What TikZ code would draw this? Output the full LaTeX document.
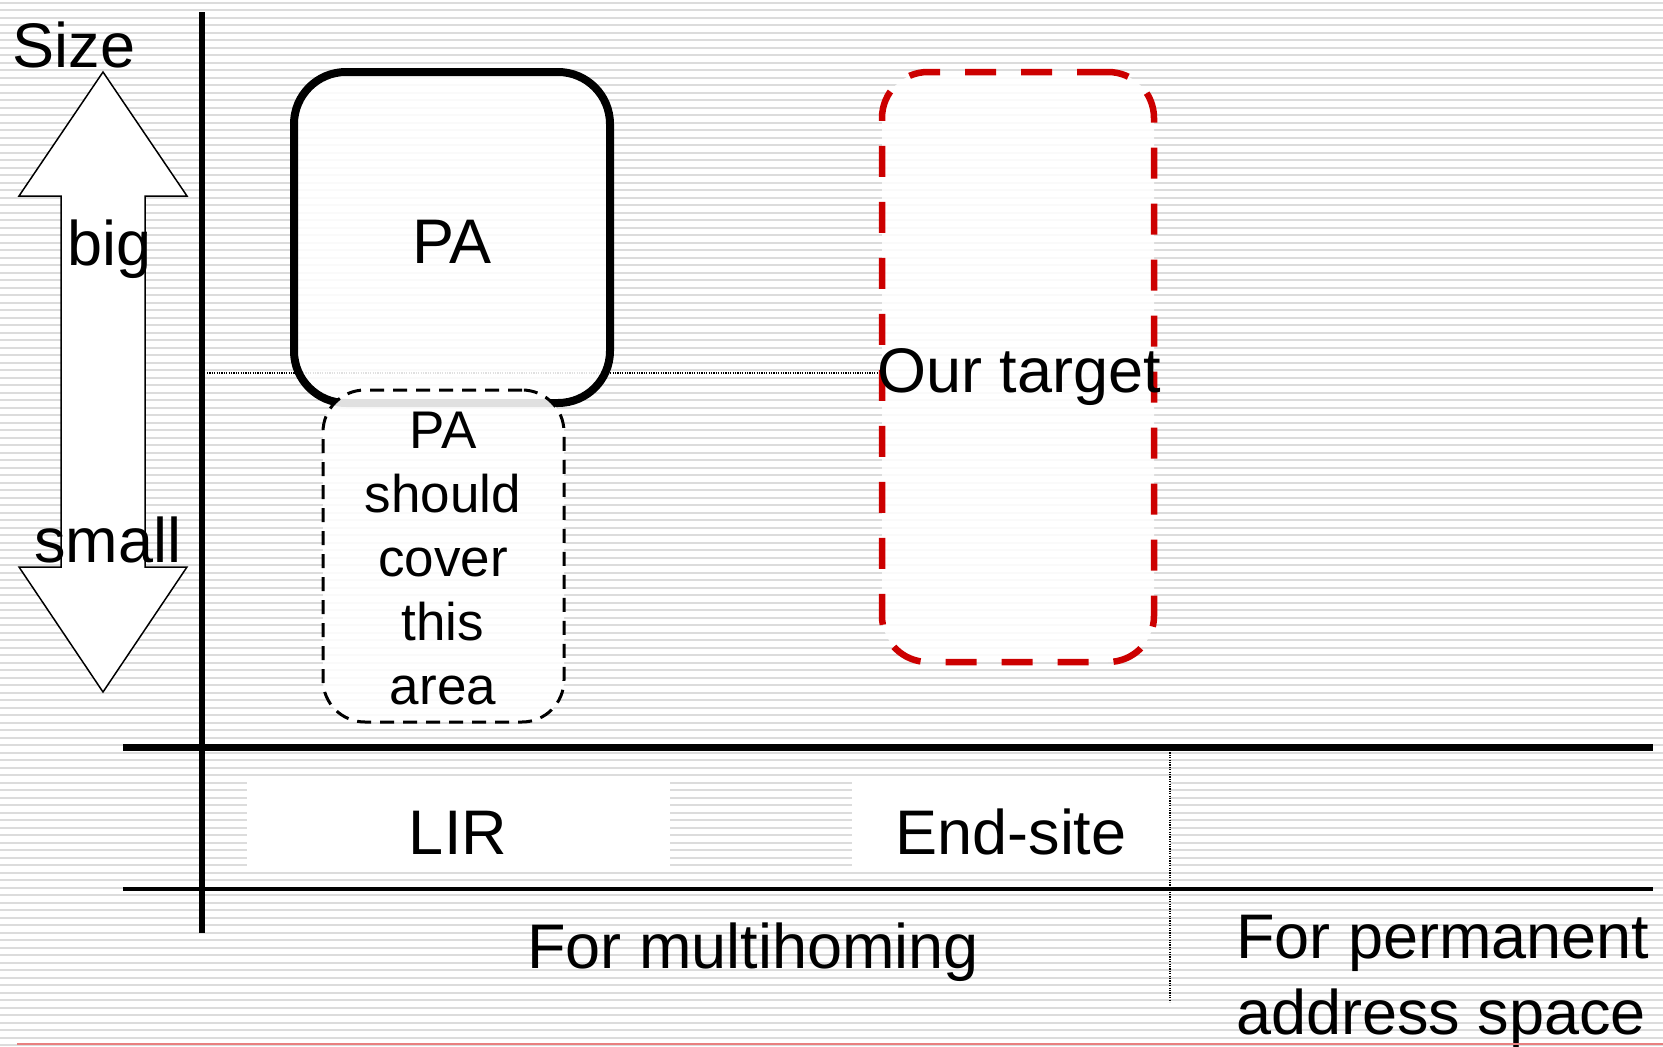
\documentclass[tikz,border=0pt]{standalone}
\usepackage{fontspec}
\setmainfont{Liberation Sans}
\definecolor{stripegray}{HTML}{DCDCDC}
\definecolor{targetred}{HTML}{CC0000}
\definecolor{redrule}{HTML}{E88080}
\begin{document}
\begin{tikzpicture}[x=1pt,y=-1pt,
  big/.style={font=\fontsize{63}{64}\selectfont, inner sep=0pt},
  mid/.style={font=\fontsize{53}{64}\selectfont, inner sep=0pt, align=center},
  axis/.style={line width=7pt, black},
  thinrule/.style={line width=4pt, black},
  dotline/.style={line width=1.2pt, dash pattern=on 1.2pt off 1.2pt, black},
  pabox/.style={draw, line width=8pt, rounded corners=52pt, fill=white, fill opacity=0.88, draw opacity=1},
  smallbox/.style={draw, line width=3pt, dash pattern=on 14pt off 9pt, rounded corners=42pt, fill=white, fill opacity=0.88, draw opacity=1},
  targetbox/.style={draw=targetred, line width=6.5pt, dash pattern=on 31pt off 25pt, rounded corners=46pt, fill=white, fill opacity=0.88, draw opacity=1},
  blockarrow/.style={draw, line width=1.5pt, fill=white, line join=miter},
  labelbg/.style={fill=white, draw=none, inner sep=0pt}
]
\useasboundingbox (0,0) rectangle (1663,1047);
\fill[white] (0,0) rectangle (1663,1047);
% background stripes
\foreach \k in {0,...,139} {
  \fill[stripegray] (0,{1.5+7.5*\k}) rectangle ++(1663,2);
}
% white label backgrounds
\node[labelbg, minimum width=423pt, minimum height=90pt] (lirbg) at (458.5,827) {};
\node[labelbg, minimum width=318pt, minimum height=90pt] (endbg) at (1011,827) {};

% size arrow
\draw[blockarrow] (103,72) -- (187,196) -- (145,196) -- (145,567) -- (187,567)
  -- (103,692) -- (19,567) -- (61,567) -- (61,196) -- (19,196) -- cycle;
\node[big, anchor=base] (size) at (74,67) {Size};
\node[big, anchor=base] (big) at (110,265) {big};
\node[big, anchor=base] (small) at (108,562) {small};

% axes
\coordinate (ytop) at (202,12);
\coordinate (ybot) at (202,933);
\draw[line width=6.5pt] (ytop) -- (ybot);
\coordinate (h1l) at (123,747);
\coordinate (h1r) at (1653,747);
\draw[axis] (h1l) -- (h1r);
\coordinate (h2l) at (123,889);
\coordinate (h2r) at (1653,889);
\draw[thinrule] (h2l) -- (h2r);

% dotted guide lines
\coordinate (dl) at (207,373);
\coordinate (dr) at (880,373);
\draw[dotline] (dl) -- (dr);
\coordinate (vt) at (1170,750);
\coordinate (vb) at (1170,1002);
\draw[dotline] (vt) -- (vb);

% boxes
\node[pabox, minimum width=316pt, minimum height=331pt] (pa) at (452,237.5) {};
\node[big, anchor=base] (patext) at (452,263) {PA};
\node[smallbox, minimum width=241pt, minimum height=332pt] (cover) at (443.5,556) {};
\node[mid, anchor=center] (covertext) at (443,558.5) {PA\\should\\cover\\this\\area};
\node[targetbox, minimum width=272pt, minimum height=590pt] (target) at (1018,367) {};
\node[big, anchor=base] (targettext) at (1019,392) {Our target};

% bottom labels
\node[big, anchor=base] (lir) at (458,854) {LIR};
\node[big, anchor=base] (endsite) at (1011,854) {End-site};
\node[big, anchor=base] (multi) at (753,968) {For multihoming};
\node[big, anchor=north west, align=left, font=\fontsize{63}{76}\selectfont] (perm) at (1236,915) {For permanent\\address space};

% bottom red rule
\coordinate (rl) at (17,1044);
\coordinate (rr) at (1663,1044);
\draw[redrule, line width=2.5pt] (rl) -- (rr);
\end{tikzpicture}
\end{document}
